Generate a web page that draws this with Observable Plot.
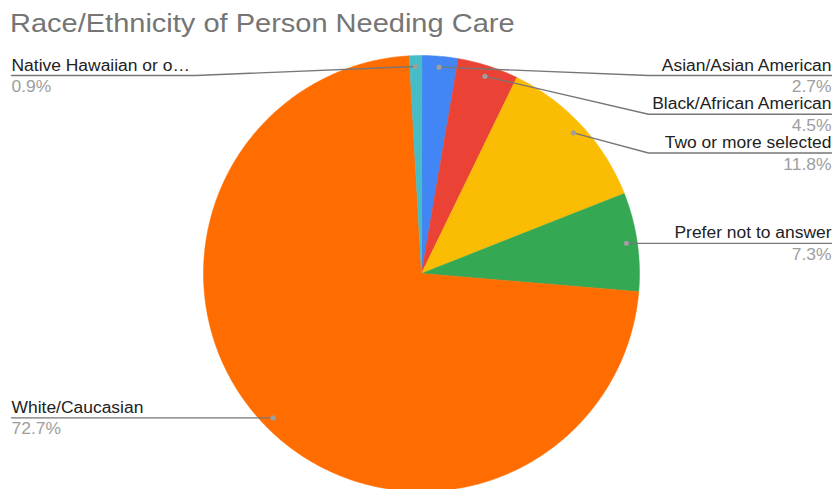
<!DOCTYPE html>
<html>
<head>
<meta charset="utf-8">
<script src="https://cdn.jsdelivr.net/npm/d3@7"></script>
<script src="https://cdn.jsdelivr.net/npm/@observablehq/plot@0.6"></script>
<style>
  html, body { margin: 0; padding: 0; background: #fff; overflow: hidden; }
  #title { height: 40px; line-height: 46px; padding-left: 10px; font-family: "Liberation Sans", Arial, sans-serif; font-size: 25px; color: #757575; white-space: nowrap; }
  #title span { display: inline-block; transform: scaleX(1.16); transform-origin: left center; }
  #chart svg { display: block; }
</style>
</head>
<body>
<div id="title"><span>Race/Ethnicity of Person Needing Care</span></div>
<div id="chart"></div>
<script>
// ---- data (clockwise from 12 o'clock) ----
const categories = ["Asian/Asian American", "Black/African American", "Two or more selected", "Prefer not to answer", "White/Caucasian", "Native Hawaiian or other Pacific Islander"];
const shownLabels = ["Asian/Asian American", "Black/African American", "Two or more selected", "Prefer not to answer", "White/Caucasian", "Native Hawaiian or o…"];
const percents = [2.7, 4.5, 11.8, 7.3, 72.7, 0.9];
const colors = ["#4285F4", "#EA4335", "#FBBC04", "#34A853", "#FF6D01", "#46BDC6"];

// ---- layout ----
const W = 834, H = 489, TOP = 40;
const cx = 421, cy = 273, R = 218;
const dotR = 0.95 * R;
const minLabelY = 75, labelGap = 38.75;
const rightEdge = 831, leftEdge = 11, rightElbow = 648, leftElbow = 195;
const textStretch = 1.09;

const arcs = d3.pie().sort(null).value(d => d)(percents);
const px = (a, r) => cx + r * Math.sin(a);
const py = (a, r) => cy - r * Math.cos(a);

// slice polygons
const slicePts = [];
arcs.forEach((a, i) => {
  slicePts.push({cat: categories[i], x: cx, y: cy});
  const n = Math.max(2, Math.ceil((a.endAngle - a.startAngle) / 0.01));
  for (let k = 0; k <= n; k++) {
    const t = a.startAngle + (a.endAngle - a.startAngle) * k / n;
    slicePts.push({cat: categories[i], x: px(t, R), y: py(t, R)});
  }
});

// labels
const labels = arcs.map((a, i) => {
  const m = (a.startAngle + a.endAngle) / 2;
  return {cat: categories[i], label: shownLabels[i], pct: d3.format(".1f")(percents[i]) + "%",
          side: m < Math.PI ? "right" : "left", dx: px(m, dotR), dy: py(m, dotR), m};
});
for (const side of ["right", "left"]) {
  const group = labels.filter(d => d.side === side).sort((a, b) => a.dy - b.dy);
  let prev = -Infinity;
  for (const d of group) {
    d.ly = Math.max(d.dy, minLabelY, prev + labelGap);
    prev = d.ly;
  }
}
const leaderPts = [];
labels.forEach(d => {
  const elbow = d.side === "right" ? rightElbow : leftElbow;
  const end = d.side === "right" ? rightEdge : leftEdge;
  leaderPts.push({cat: d.cat, x: d.dx, y: d.dy});
  leaderPts.push({cat: d.cat, x: elbow, y: d.ly});
  leaderPts.push({cat: d.cat, x: end, y: d.ly});
});
const right = labels.filter(d => d.side === "right");
const left = labels.filter(d => d.side === "left");

const font = "'Liberation Sans', Arial, sans-serif";
const chart = Plot.plot({
  width: W, height: H - TOP,
  margin: 0,
  x: {domain: [0, W], range: [0, W], axis: null},
  y: {domain: [TOP, H], range: [0, H - TOP], axis: null},
  color: {domain: categories, range: colors},
  style: {fontFamily: font, background: "#fff", overflow: "hidden"},
  marks: [
    Plot.line(slicePts, {x: "x", y: "y", z: "cat", fill: "cat", stroke: "cat", strokeWidth: 0.5, curve: "linear-closed"}),
    Plot.line(leaderPts, {x: "x", y: "y", z: "cat", stroke: "#777777", strokeWidth: 1.3}),
    Plot.dot(labels, {x: "dx", y: "dy", r: 2.6, fill: "#9e9e9e", stroke: null}),
    Plot.text(right, {x: rightEdge, y: d => d.ly - 5, text: "label", textAnchor: "end", lineAnchor: "bottom", fontSize: 16, fill: "#222222"}),
    Plot.text(right, {x: rightEdge, y: d => d.ly + 16.5, text: "pct", textAnchor: "end", lineAnchor: "bottom", fontSize: 16, fill: "#9e9e9e"}),
    Plot.text(left, {x: leftEdge, y: d => d.ly - 5, text: "label", textAnchor: "start", lineAnchor: "bottom", fontSize: 16, fill: "#222222"}),
    Plot.text(left, {x: leftEdge, y: d => d.ly + 16.5, text: "pct", textAnchor: "start", lineAnchor: "bottom", fontSize: 16, fill: "#9e9e9e"})
  ]
});
document.getElementById("chart").appendChild(chart);
// widen glyphs slightly to match the reference's text metrics
chart.querySelectorAll("text").forEach(t => {
  const w = t.getComputedTextLength();
  if (w > 0) {
    t.setAttribute("textLength", (w * textStretch).toFixed(2));
    t.setAttribute("lengthAdjust", "spacingAndGlyphs");
  }
});
</script>
</body>
</html>
